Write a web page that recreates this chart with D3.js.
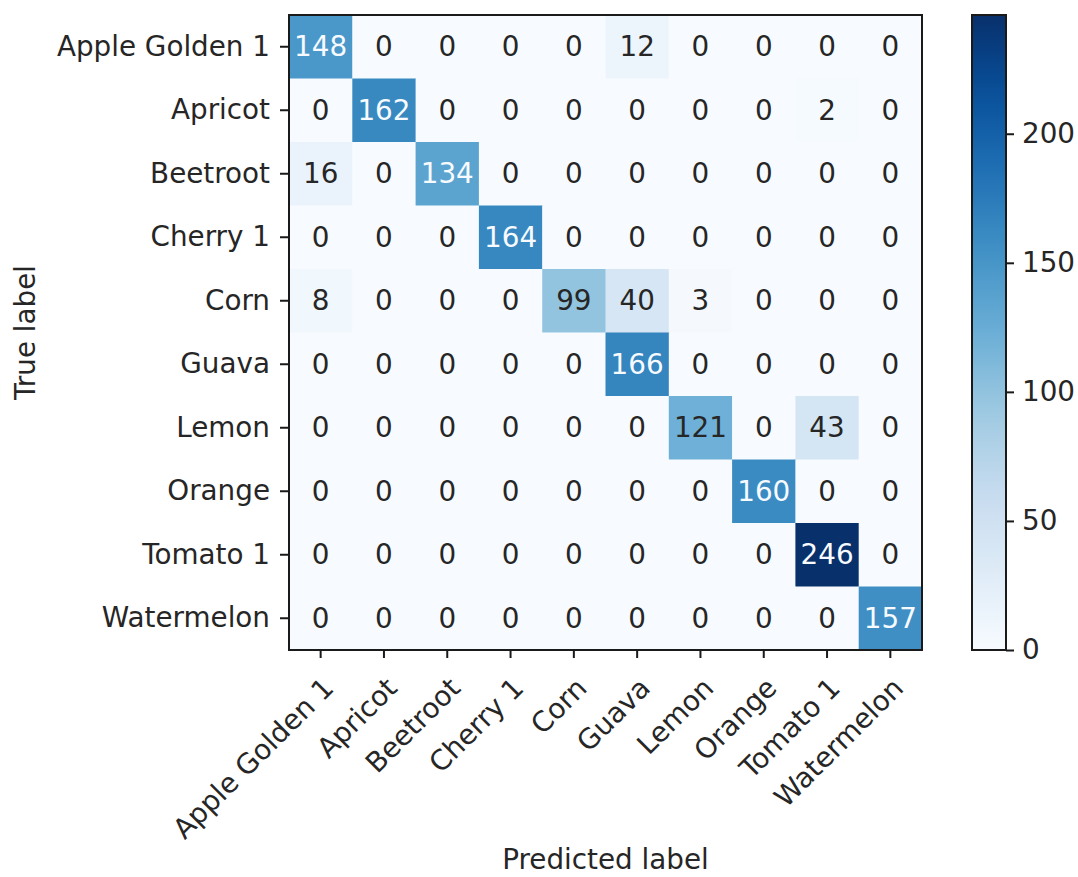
<!DOCTYPE html>
<html>
<head>
<meta charset="utf-8">
<script src="https://cdn.jsdelivr.net/npm/d3@7"></script>
<style>
  html, body { margin: 0; padding: 0; background: #fff; }
  svg text { font-family: "DejaVu Sans", "Verdana", sans-serif; }
</style>
</head>
<body>
<svg id="chart" width="1078" height="877"></svg>
<script>
// Class names (rows = true label, columns = predicted label)
const classes = ["Apple Golden 1", "Apricot", "Beetroot", "Cherry 1", "Corn",
                 "Guava", "Lemon", "Orange", "Tomato 1", "Watermelon"];

// Confusion matrix counts, one row per true class
const rowAppleGolden = [148, 0, 0, 0, 0, 12, 0, 0, 0, 0];
const rowApricot     = [0, 162, 0, 0, 0, 0, 0, 0, 2, 0];
const rowBeetroot    = [16, 0, 134, 0, 0, 0, 0, 0, 0, 0];
const rowCherry      = [0, 0, 0, 164, 0, 0, 0, 0, 0, 0];
const rowCorn        = [8, 0, 0, 0, 99, 40, 3, 0, 0, 0];
const rowGuava       = [0, 0, 0, 0, 0, 166, 0, 0, 0, 0];
const rowLemon       = [0, 0, 0, 0, 0, 0, 121, 0, 43, 0];
const rowOrange      = [0, 0, 0, 0, 0, 0, 0, 160, 0, 0];
const rowTomato      = [0, 0, 0, 0, 0, 0, 0, 0, 246, 0];
const rowWatermelon  = [0, 0, 0, 0, 0, 0, 0, 0, 0, 157];

const colorbarTicks = [0, 50, 100, 150, 200];

const matrix = [rowAppleGolden, rowApricot, rowBeetroot, rowCherry, rowCorn,
                rowGuava, rowLemon, rowOrange, rowTomato, rowWatermelon];

const svg = d3.select("#chart");
const FONT = 27.8;
const INK = "#262626";
const LINE = "#1a1a1a";

const plot = { left: 289, top: 15, right: 922, bottom: 650 };
const cbar = { left: 972, right: 1006 };

const vmax = d3.max(matrix.flat());
const vmin = d3.min(matrix.flat());

// Sequential "Blues" ramp built from its ColorBrewer stops with linear segments
const bluesStops = ["#f7fbff", "#deebf7", "#c6dbef", "#9ecae1", "#6baed6",
                    "#4292c6", "#2171b5", "#08519c", "#08306b"];
const color = d3.scaleLinear()
  .domain(bluesStops.map((_, i) => vmin + (vmax - vmin) * i / (bluesStops.length - 1)))
  .range(bluesStops)
  .interpolate(d3.interpolateRgb);

const x = d3.scaleBand().domain(d3.range(classes.length)).range([plot.left, plot.right]);
const y = d3.scaleBand().domain(d3.range(classes.length)).range([plot.top, plot.bottom]);

const cells = matrix.flatMap((row, i) => row.map((v, j) => ({ i, j, v })));

// Heatmap cells
svg.append("g").selectAll("rect").data(cells).join("rect")
  .attr("x", d => x(d.j))
  .attr("y", d => y(d.i))
  .attr("width", x.bandwidth() + 0.5)
  .attr("height", y.bandwidth() + 0.5)
  .attr("fill", d => color(d.v));

// Cell counts; light text on dark cells
const thresh = (vmax + vmin) / 2;
svg.append("g").selectAll("text").data(cells).join("text")
  .attr("x", d => x(d.j) + x.bandwidth() / 2)
  .attr("y", d => y(d.i) + y.bandwidth() / 2)
  .attr("text-anchor", "middle")
  .attr("dominant-baseline", "central")
  .attr("font-size", FONT)
  .attr("fill", d => d.v > thresh ? "#f7fbff" : INK)
  .text(d => d.v);

// Axes
const xAxis = svg.append("g")
  .attr("transform", `translate(0,${plot.bottom})`)
  .call(d3.axisBottom(x).tickSize(8).tickPadding(6).tickFormat(i => classes[i]));
xAxis.selectAll(".tick text")
  .attr("font-size", FONT)
  .attr("fill", INK)
  .attr("text-anchor", "end")
  .attr("dominant-baseline", "central")
  .attr("y", 0).attr("dy", null)
  .attr("transform", "translate(8,33) rotate(-45)");

const yAxis = svg.append("g")
  .attr("transform", `translate(${plot.left},0)`)
  .call(d3.axisLeft(y).tickSize(9).tickPadding(10).tickFormat(i => classes[i]));
yAxis.selectAll("text").attr("font-size", FONT).attr("fill", INK);

[xAxis, yAxis].forEach(a => {
  a.select(".domain").remove();
  a.selectAll(".tick line").attr("stroke", LINE).attr("stroke-width", 2);
});

// Plot frame
svg.append("rect")
  .attr("x", plot.left).attr("y", plot.top)
  .attr("width", plot.right - plot.left).attr("height", plot.bottom - plot.top)
  .attr("fill", "none").attr("stroke", LINE).attr("stroke-width", 2);

// Axis titles
svg.append("text")
  .attr("x", (plot.left + plot.right) / 2).attr("y", 869)
  .attr("text-anchor", "middle").attr("font-size", FONT).attr("fill", INK)
  .text("Predicted label");
svg.append("text")
  .attr("transform", `translate(35,${(plot.top + plot.bottom) / 2}) rotate(-90)`)
  .attr("text-anchor", "middle").attr("font-size", FONT).attr("fill", INK)
  .text("True label");

// Colorbar
const cy = d3.scaleLinear().domain([vmin, vmax]).range([plot.bottom, plot.top]);
const defs = svg.append("defs");
const grad = defs.append("linearGradient")
  .attr("id", "cbar-grad").attr("x1", 0).attr("y1", 1).attr("x2", 0).attr("y2", 0);
d3.range(0, 1.0001, 0.05).forEach(t => {
  grad.append("stop").attr("offset", t).attr("stop-color", color(vmin + t * (vmax - vmin)));
});
svg.append("rect")
  .attr("x", cbar.left).attr("y", plot.top)
  .attr("width", cbar.right - cbar.left).attr("height", plot.bottom - plot.top)
  .attr("fill", "url(#cbar-grad)")
  .attr("stroke", LINE).attr("stroke-width", 2);

const cAxis = svg.append("g")
  .attr("transform", `translate(${cbar.right},0)`)
  .call(d3.axisRight(cy).tickValues(colorbarTicks).tickSize(8).tickPadding(8));
cAxis.select(".domain").remove();
cAxis.selectAll(".tick line").attr("stroke", LINE).attr("stroke-width", 2);
cAxis.selectAll("text").attr("font-size", FONT).attr("fill", INK);
</script>
</body>
</html>
